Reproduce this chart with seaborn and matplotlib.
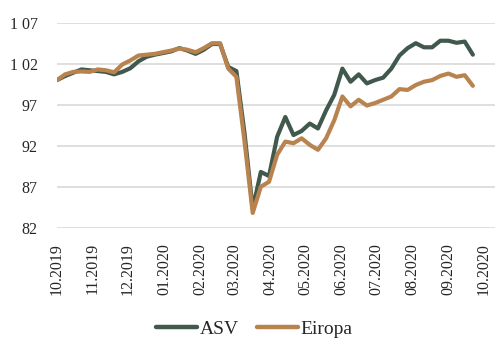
import pandas as pd
import numpy as np
import matplotlib.pyplot as plt
import matplotlib.dates as mdates
import seaborn as sns

# weekly index values (start = 100)
asv = [100.0, 100.5, 100.9, 101.3, 101.2, 101.1, 101.0, 100.7, 101.0, 101.45,
       102.3, 102.85, 103.1, 103.3, 103.5, 103.9, 103.6, 103.2, 103.7, 104.4,
       104.4, 101.6, 101.1, 93.5, 84.3, 88.8, 88.3, 93.1, 95.5, 93.3,
       93.8, 94.7, 94.1, 96.3, 98.2, 101.4, 99.8, 100.7, 99.6, 100.0,
       100.3, 101.4, 103.0, 103.9, 104.5, 104.0, 104.0, 104.8, 104.8, 104.55,
       104.7, 103.1]
eiropa = [100.0, 100.7, 101.0, 101.05, 101.0, 101.3, 101.2, 100.95, 101.9, 102.4,
          103.0, 103.1, 103.2, 103.4, 103.6, 103.85, 103.7, 103.4, 103.9, 104.5,
          104.5, 101.4, 100.4, 92.5, 83.8, 87.0, 87.6, 90.9, 92.5, 92.3,
          92.9, 92.1, 91.5, 92.9, 95.1, 98.0, 96.8, 97.6, 96.9, 97.2,
          97.6, 98.0, 98.9, 98.8, 99.4, 99.8, 100.0, 100.5, 100.8, 100.4,
          100.6, 99.3]
dates = pd.date_range('2019-10-01', periods=len(asv), freq='7D')
series_names = ['ASV', 'Eiropa']
colors = ['#41594D', '#B8834F']
ytick_vals = [82, 87, 92, 97, 102, 107]
ytick_labels = ['82', '87', '92', '97', '1 02', '1 07']

df = pd.DataFrame({'date': np.concatenate([dates, dates]),
                   'value': asv + eiropa,
                   'series': ['ASV'] * len(asv) + ['Eiropa'] * len(eiropa)})

sns.set_style('white')
plt.rcParams['font.family'] = ['Liberation Serif', 'DejaVu Serif']

fig = plt.figure(figsize=(5.03, 3.61), dpi=100)
ax = fig.add_axes([57 / 503, 133.3 / 361, 438 / 503, 205 / 361])

sns.lineplot(data=df, x='date', y='value', hue='series', hue_order=series_names,
             palette=colors, linewidth=3, ax=ax, legend=False,
             solid_joinstyle='round', solid_capstyle='round')

ax.set_ylim(82, 107)
ax.set_yticks(ytick_vals)
ax.set_yticklabels(ytick_labels)
ax.set_xlim(pd.Timestamp('2019-10-01'), pd.Timestamp('2020-10-11'))
ax.xaxis.set_major_locator(mdates.MonthLocator())
ax.xaxis.set_major_formatter(mdates.DateFormatter('%m.%Y'))
ax.tick_params(axis='x', rotation=90, length=0, pad=11, labelsize=11.5)
ax.tick_params(axis='y', length=0, pad=14, labelsize=11.5)
ax.set_xlabel('')
ax.set_ylabel('')
ax.grid(axis='y', color='#d9d9d9', linewidth=1.2)
ax.grid(axis='x', visible=False)
for s in ax.spines.values():
    s.set_visible(False)

handles = [plt.Line2D([], [], color=c, linewidth=3.2, solid_capstyle='round') for c in colors]
fig.legend(handles, series_names, loc='center', bbox_to_anchor=(0.506, 0.089),
           ncol=2, frameon=False, fontsize=14, handlelength=2.1,
           handletextpad=0.15, columnspacing=0.9)

fig.savefig('out.png', dpi=100)
